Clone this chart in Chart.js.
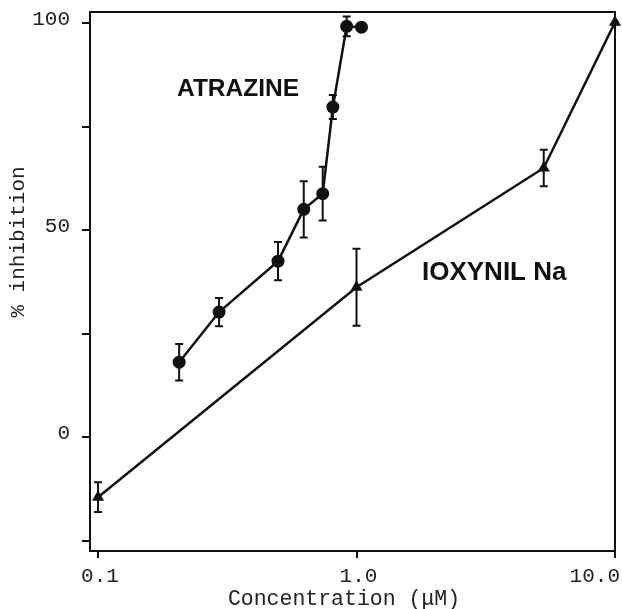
<!DOCTYPE html>
<html lang="en">
  <head>
    <meta charset="UTF-8" />
    <title>Inhibition vs concentration</title>
    <script src="https://cdn.jsdelivr.net/npm/chart.js"></script>
    <style>
      body {
        margin: 0;
        padding: 0;
        background: #fff;
      }
      canvas {
        display: block;
      }
    </style>
  </head>
  <body>
    <canvas id="inhibitionChart" width="622" height="609"></canvas>

    <script>
      // Atrazine series (concentration in uM, % inhibition, +/- error)
      const atrazineConc = [0.206, 0.294, 0.497, 0.625, 0.74, 0.81, 0.916, 1.045];
      const atrazineInhib = [18.1, 30.2, 42.5, 55.0, 58.8, 79.7, 99.2, 99.0];
      const atrazineErr = [4.4, 3.4, 4.6, 6.8, 6.5, 2.9, 2.4, 0];

      // Ioxynil Na series
      const ioxynilConc = [0.1, 1.0, 5.3, 10.0];
      const ioxynilInhib = [-14.5, 36.2, 65.0, 100.2];
      const ioxynilErr = [3.6, 9.3, 4.4, 0];

      // axis ticks and their labels
      const xTicks = [0.1, 1.0, 10.0];
      const xTickLabels = ["0.1", "1.0", "10.0"];
      const yTicks = [-25, 0, 25, 50, 75, 100];
      const yTickLabels = ["", "0", "", "50", "", "100"];

      // series names written inside the plot, anchored in data units
      const seriesNames = ["ATRAZINE", "IOXYNIL Na"];
      const nameAnchorX = [0.348, 3.41];
      const nameAnchorY = [84, 39.6];

      const INK = "#111";
      const MONO = '"Liberation Mono", "Courier New", monospace';
      const SANS = '"Liberation Sans", Arial, sans-serif';

      function toPoints(xs, ys) {
        return xs.map((x, i) => ({ x: x, y: ys[i] }));
      }

      const errorSets = [atrazineErr, ioxynilErr];

      // error bars, frame, tick labels and titles
      const decorations = {
        id: "decorations",
        beforeDatasetsDraw(chart) {
          const ctx = chart.ctx;
          const xs = chart.scales.x;
          const ys = chart.scales.y;
          ctx.save();
          ctx.strokeStyle = INK;
          ctx.lineWidth = 2;
          chart.data.datasets.forEach((ds, d) => {
            const errs = errorSets[d];
            ds.data.forEach((p, i) => {
              if (!errs[i]) return;
              const px = xs.getPixelForValue(p.x);
              const top = ys.getPixelForValue(p.y + errs[i]);
              const bot = ys.getPixelForValue(p.y - errs[i]);
              ctx.beginPath();
              ctx.moveTo(px, top);
              ctx.lineTo(px, bot);
              ctx.moveTo(px - 4, top);
              ctx.lineTo(px + 4, top);
              ctx.moveTo(px - 4, bot);
              ctx.lineTo(px + 4, bot);
              ctx.stroke();
            });
          });
          ctx.restore();
        },
        afterDraw(chart) {
          const ctx = chart.ctx;
          const area = chart.chartArea;
          const xs = chart.scales.x;
          const ys = chart.scales.y;
          ctx.save();

          // box round the plot
          ctx.strokeStyle = INK;
          ctx.lineWidth = 2;
          ctx.strokeRect(area.left, area.top, area.right - area.left, area.bottom - area.top);

          // y tick labels
          ctx.fillStyle = "#222";
          ctx.font = "21px " + MONO;
          ctx.textAlign = "right";
          ctx.textBaseline = "middle";
          yTicks.forEach((v, i) => {
            if (!yTickLabels[i]) return;
            ctx.fillText(yTickLabels[i], 70, ys.getPixelForValue(v) - 4);
          });

          // x tick labels, last one kept inside the canvas
          ctx.textAlign = "center";
          ctx.textBaseline = "top";
          xTicks.forEach((v, i) => {
            const w = ctx.measureText(xTickLabels[i]).width;
            const cx = Math.min(xs.getPixelForValue(v) + 2, chart.width - 2 - w / 2);
            ctx.fillText(xTickLabels[i], cx, 566);
          });

          // axis titles
          ctx.font = "21.5px " + MONO;
          ctx.textBaseline = "middle";
          ctx.fillText("Concentration (\u03bcM)", 344, 599);
          ctx.save();
          ctx.translate(18, 242);
          ctx.rotate(-Math.PI / 2);
          ctx.font = "21px " + MONO;
          ctx.fillText("% inhibition", 0, 0);
          ctx.restore();

          // series names
          ctx.fillStyle = INK;
          const sizes = [24.5, 26];
          seriesNames.forEach((name, i) => {
            ctx.font = "bold " + sizes[i] + "px " + SANS;
            ctx.fillText(name, xs.getPixelForValue(nameAnchorX[i]), ys.getPixelForValue(nameAnchorY[i]));
          });

          ctx.restore();
        },
      };

      new Chart(document.getElementById("inhibitionChart"), {
        type: "scatter",
        data: {
          datasets: [
            {
              label: seriesNames[0],
              data: toPoints(atrazineConc, atrazineInhib),
              showLine: true,
              borderColor: INK,
              backgroundColor: INK,
              borderWidth: 2.5,
              pointStyle: "circle",
              pointRadius: 6.5,
              pointBorderWidth: 0,
              clip: false,
            },
            {
              label: seriesNames[1],
              data: toPoints(ioxynilConc, ioxynilInhib),
              showLine: true,
              borderColor: INK,
              backgroundColor: INK,
              borderWidth: 2.5,
              pointStyle: "triangle",
              pointRadius: 7,
              pointBorderWidth: 0,
              clip: false,
            },
          ],
        },
        options: {
          responsive: false,
          animation: false,
          devicePixelRatio: 1,
          layout: {
            padding: { top: 12, right: 6, left: 0, bottom: 0 },
          },
          plugins: {
            legend: { display: false },
            tooltip: { enabled: false },
          },
          scales: {
            x: {
              type: "logarithmic",
              min: 0.0931,
              max: 10,
              afterBuildTicks: (scale) => {
                scale.ticks = xTicks.map((v) => ({ value: v }));
              },
              afterFit: (scale) => {
                scale.height = 58;
              },
              ticks: { display: false },
              border: { display: false },
              grid: {
                drawOnChartArea: false,
                drawTicks: true,
                tickLength: 7,
                color: INK,
                lineWidth: 2,
              },
            },
            y: {
              type: "linear",
              min: -27.5,
              max: 102.66,
              afterBuildTicks: (scale) => {
                scale.ticks = yTicks.map((v) => ({ value: v }));
              },
              afterFit: (scale) => {
                scale.width = 90;
              },
              ticks: { display: false },
              border: { display: false },
              grid: {
                drawOnChartArea: false,
                drawTicks: true,
                tickLength: 8,
                color: INK,
                lineWidth: 2,
              },
            },
          },
        },
        plugins: [decorations],
      });
    </script>
  </body>
</html>
